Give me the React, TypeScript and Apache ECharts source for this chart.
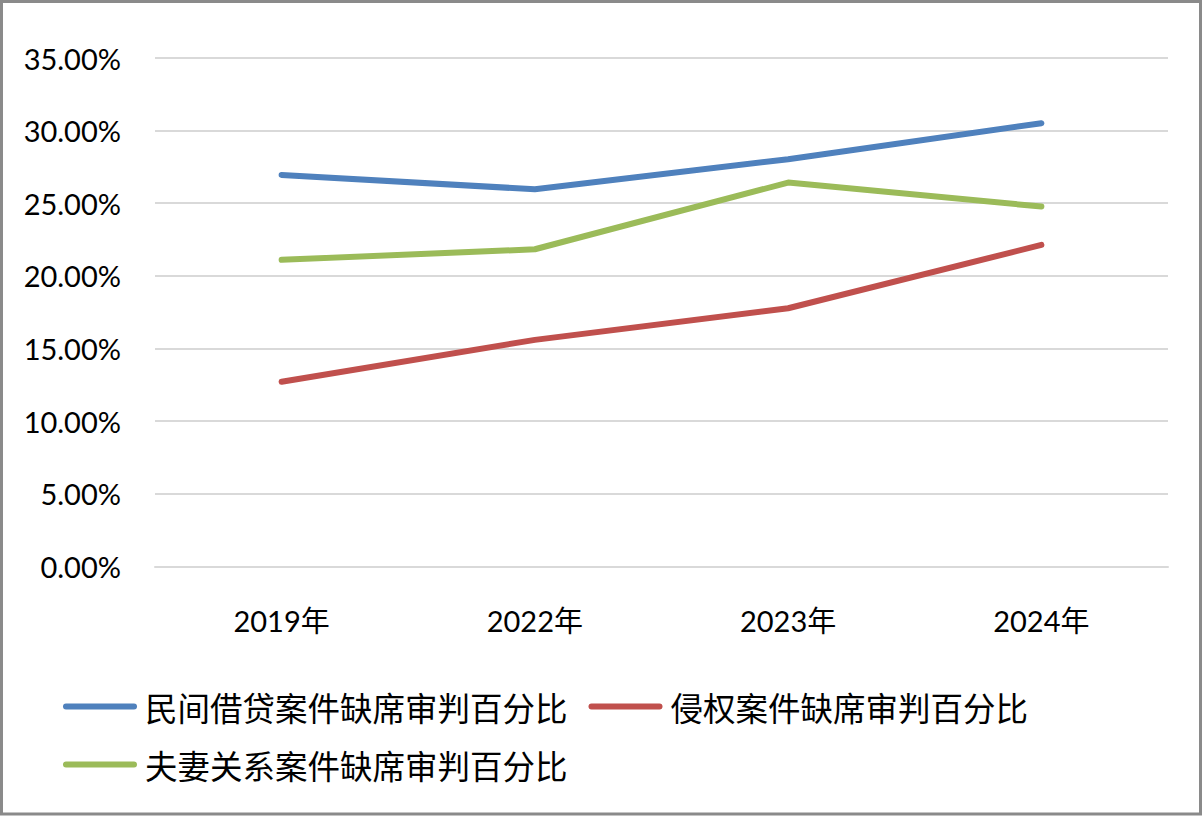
import React, { useEffect, useRef } from "react";
import * as echarts from "echarts";

const categories = ["2019年", "2022年", "2023年", "2024年"];
const seriesNames = [
  "民间借贷案件缺席审判百分比",
  "侵权案件缺席审判百分比",
  "夫妻关系案件缺席审判百分比",
];
const civilLoan = [26.95, 25.96, 28.03, 30.51];
const tort = [12.71, 15.59, 17.77, 22.13];
const marital = [21.1, 21.83, 26.42, 24.77];
const yTicks = { min: 0, max: 35, interval: 5 };

const colors = ["#4F81BD", "#C0504D", "#9BBB59"];
const latin = "Lato, 'Noto Sans CJK SC', sans-serif";
const cjk = "'Noto Sans CJK SC', sans-serif";

export default function App() {
  const ref = useRef<HTMLDivElement>(null);
  useEffect(() => {
    document.body.style.margin = "0";
    const chart = echarts.init(ref.current!, null, { renderer: "svg" });
    const values = [civilLoan, tort, marital];
    chart.setOption({
      animation: false,
      backgroundColor: "#ffffff",
      grid: { left: 155, right: 36, top: 58, bottom: 251.7, containLabel: false },
      xAxis: {
        type: "category",
        data: categories,
        axisLine: { show: true, lineStyle: { color: "#D9D9D9", width: 2 } },
        axisTick: { show: false },
        axisLabel: { color: "#000", fontSize: 29, fontFamily: latin, margin: 40 },
      },
      yAxis: {
        type: "value",
        min: yTicks.min,
        max: yTicks.max,
        interval: yTicks.interval,
        axisLine: { show: false },
        axisTick: { show: false },
        splitLine: { lineStyle: { color: "#D9D9D9", width: 2 } },
        axisLabel: {
          color: "#000",
          fontSize: 29,
          fontFamily: latin,
          margin: 34,
          formatter: (v: number) => v.toFixed(2) + "%",
        },
      },
      legend: {
        left: 63,
        top: 688,
        width: 1010,
        padding: 0,
        itemGap: 21,
        itemWidth: 74,
        itemHeight: 6,
        icon: "path://M3,0 L71,0 A3,3 0 0 1 71,6 L3,6 A3,3 0 0 1 3,0 Z",
        textStyle: { fontSize: 32.5, fontFamily: cjk, color: "#000", lineHeight: 37, padding: [0, 0, 0, 3] },
        data: seriesNames,
      },
      graphic: [
        {
          type: "rect",
          shape: { x: 1.5, y: 1.5, width: 1199, height: 812.5 },
          style: { fill: "none", stroke: "#8A8A8A", lineWidth: 3 },
          silent: true,
        },
      ],
      series: seriesNames.map((name, i) => ({
        name,
        type: "line",
        data: values[i],
        symbol: "none",
        color: colors[i],
        lineStyle: { width: 6, color: colors[i], cap: "round", join: "round" },
      })),
    });
    return () => chart.dispose();
  }, []);
  return <div ref={ref} style={{ width: 1204, height: 818 }} />;
}
